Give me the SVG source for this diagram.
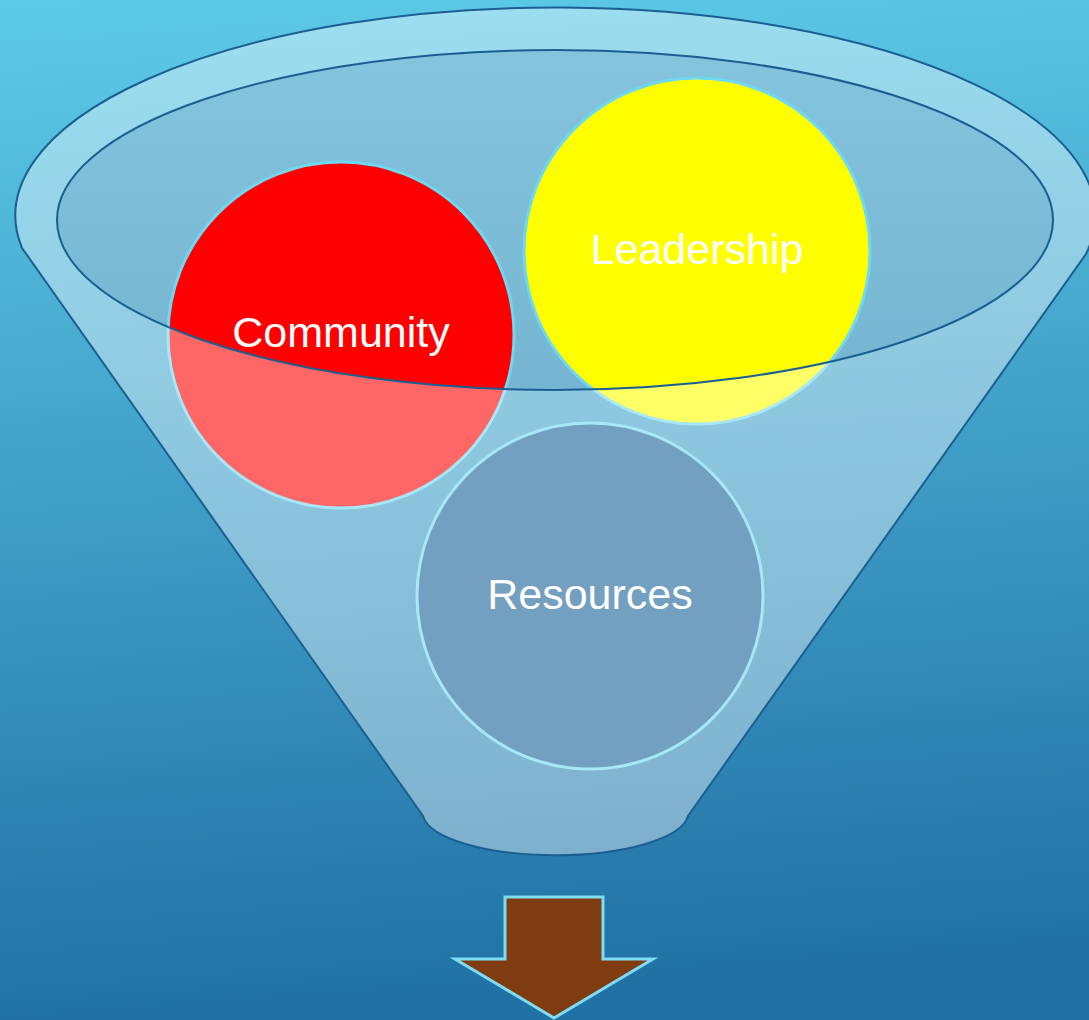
<svg xmlns="http://www.w3.org/2000/svg" width="1089" height="1020" viewBox="0 0 1089 1020">
<defs>
<linearGradient id="bg" x1="0" y1="0" x2="0.08" y2="1">
<stop offset="0" stop-color="#5dcbe8"/>
<stop offset="1" stop-color="#2171a5"/>
</linearGradient>
<linearGradient id="inner" x1="0" y1="0" x2="0" y2="1">
<stop offset="0" stop-color="#84c4dd"/>
<stop offset="1" stop-color="#76b5d1"/>
</linearGradient>
<clipPath id="outsideInner">
<path clip-rule="evenodd" d="M0 0H1089V1020H0Z M57 220A498 170 0 1 0 1053 220A498 170 0 1 0 57 220Z"/>
</clipPath>
<style>
.node{stroke:#6fd8f2;stroke-width:3}
.veil{fill:#ffffff;fill-opacity:0.4}
.label{font-family:"Liberation Sans","DejaVu Sans",sans-serif;font-size:43px;fill:#ffffff;text-anchor:middle}
.outline{fill:none;stroke:#1b5f92;stroke-width:2}
</style>
</defs>
<rect width="1089" height="1020" fill="url(#bg)"/>
<g id="funnel-back">
<path d="M57 220A498 170 0 1 0 1053 220A498 170 0 1 0 57 220Z" fill="url(#inner)"/>
<path class="veil" fill-rule="evenodd" d="M22 248A540 208 0 1 1 1086 254L688 816A133 43 0 0 1 423 816Z M57 220A498 170 0 1 0 1053 220A498 170 0 1 0 57 220Z"/>
</g>
<g id="community">
<circle class="node" cx="341" cy="335" r="173" fill="#ff0000"/>
<circle class="veil" cx="341" cy="335" r="174.5" clip-path="url(#outsideInner)"/>
<text class="label" x="341" y="347">Community</text>
</g>
<g id="leadership">
<circle class="node" cx="697" cy="251" r="173" fill="#ffff00"/>
<circle class="veil" cx="697" cy="251" r="174.5" clip-path="url(#outsideInner)"/>
<text class="label" x="697" y="264">Leadership</text>
</g>
<g id="resources">
<circle class="node" cx="590" cy="596" r="173" fill="#166196"/>
<circle class="veil" cx="590" cy="596" r="174.5"/>
<text class="label" x="590" y="609">Resources</text>
</g>
<g id="funnel-front">
<path class="outline" d="M22 248A540 208 0 1 1 1086 254L688 816A133 43 0 0 1 423 816Z"/>
<path class="outline" d="M57 220A498 170 0 1 0 1053 220A498 170 0 1 0 57 220Z"/>
</g>
<g id="connectors">
<g id="arrow">
<path d="M505 897H603V959H653L554 1018L455 959H505Z" fill="#7f3c11" stroke="#7fdcf5" stroke-width="3" stroke-linejoin="miter"/>
</g>
</g>
</svg>
